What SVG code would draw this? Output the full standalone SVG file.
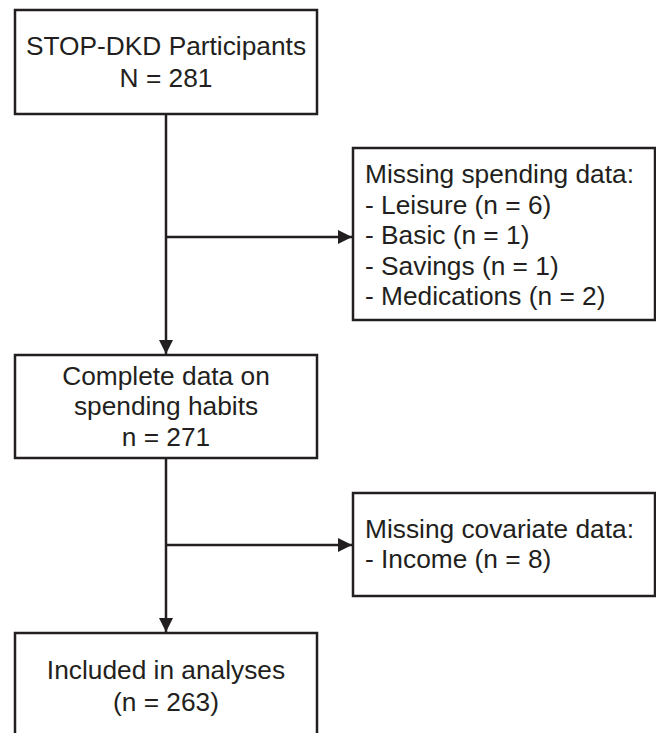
<svg xmlns="http://www.w3.org/2000/svg" width="656" height="733" viewBox="0 0 656 733">
<defs>
<style>
.box{fill:#fff;stroke:#231f20;stroke-width:2.5}
.t{font-family:"Liberation Sans",Arial,sans-serif;font-size:26.3px;fill:#231f20}
.c{text-anchor:middle}
.ln{fill:none;stroke:#231f20;stroke-width:2.5}
</style>
<marker id="ah" viewBox="0 0 10 10" refX="10" refY="5" markerWidth="14" markerHeight="14" markerUnits="userSpaceOnUse" orient="auto">
<path d="M0,0 L10,5 L0,10 Z" fill="#231f20"/>
</marker>
</defs>
<rect width="656" height="733" fill="#fff"/>
<g id="connectors">
<line class="ln" x1="166" y1="114" x2="166" y2="354" marker-end="url(#ah)"/>
<line class="ln" x1="166" y1="237" x2="352" y2="237" marker-end="url(#ah)"/>
<line class="ln" x1="166" y1="458" x2="166" y2="632" marker-end="url(#ah)"/>
<line class="ln" x1="166" y1="545" x2="352" y2="545" marker-end="url(#ah)"/>
</g>
<g id="n1">
<rect class="box" x="15" y="10" width="302" height="104"/>
<text class="t c" x="166" y="55">STOP-DKD Participants</text>
<text class="t c" x="166" y="87">N = 281</text>
</g>
<g id="n2">
<rect class="box" x="353" y="148" width="302" height="172"/>
<text class="t" x="365" y="183">Missing spending data:</text>
<text class="t" x="365" y="214">- Leisure (n = 6)</text>
<text class="t" x="365" y="244">- Basic (n = 1)</text>
<text class="t" x="365" y="275">- Savings (n = 1)</text>
<text class="t" x="365" y="305">- Medications (n = 2)</text>
</g>
<g id="n3">
<rect class="box" x="15" y="355" width="302" height="103"/>
<text class="t c" x="166" y="385">Complete data on</text>
<text class="t c" x="166" y="415">spending habits</text>
<text class="t c" x="166" y="446">n = 271</text>
</g>
<g id="n4">
<rect class="box" x="353" y="493" width="302" height="103"/>
<text class="t" x="365" y="538">Missing covariate data:</text>
<text class="t" x="365" y="568">- Income (n = 8)</text>
</g>
<g id="n5">
<rect class="box" x="15" y="633" width="302" height="120"/>
<text class="t c" x="166" y="679">Included in analyses</text>
<text class="t c" x="166" y="711">(n = 263)</text>
</g>
</svg>
